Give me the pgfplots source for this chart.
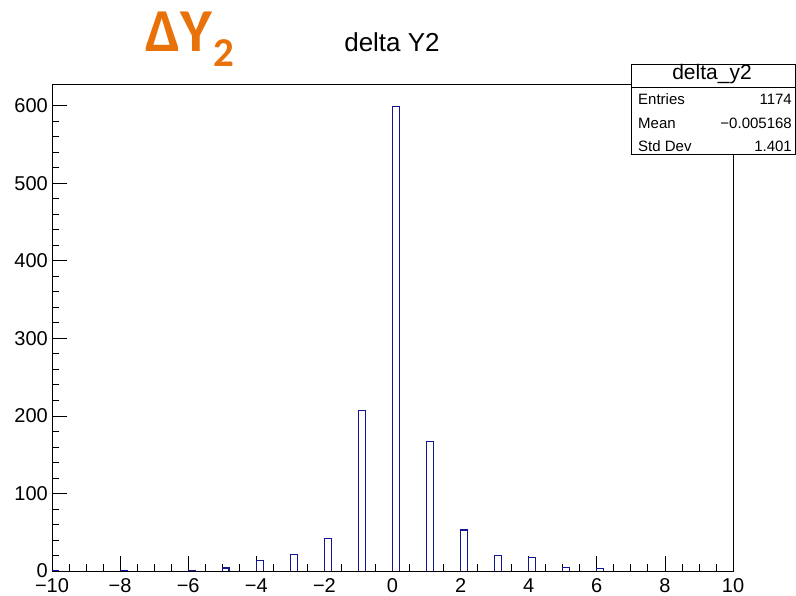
\documentclass[border=0pt]{standalone}
\usepackage{pgfplots}
\pgfplotsset{compat=1.18}
\usepackage{fontspec}
\setmainfont{Liberation Sans}
\newfontfamily\carlito{Carlito}
\definecolor{histblue}{RGB}{20,20,150}
\definecolor{dyorange}{RGB}{232,113,10}
\begin{document}
\begin{tikzpicture}
\useasboundingbox (0,0) rectangle (796pt,-596pt);
\begin{axis}[
  at={(52pt,-571pt)}, anchor=south west,
  scale only axis, width=681pt, height=487pt,
  xmin=-10, xmax=10, ymin=0, ymax=628,
  xtick={-10,-8,...,10},
  xticklabels={−10,−8,−6,−4,−2,0,2,4,6,8,10},
  ytick={0,100,...,600},
  minor x tick num=3, minor y tick num=4,
  tick align=inside, tick pos=left,
  major tick length=15pt, minor tick length=7.5pt,
  tick style={black, line width=0.8pt},
  axis line style={line width=0.8pt},
  ticklabel style={font=\fontsize{20}{20}\selectfont},
  xticklabel style={inner sep=0pt, yshift=-7.5pt},
  yticklabel style={inner sep=0pt, xshift=-4pt},
  /pgf/number format/assume math mode=true,
  unbounded coords=jump,
]
\addplot[sharp plot, histblue, line width=1.2pt] coordinates {
(-10,0) (-10,1) (-9.8,1) (-9.8,0) (nan,nan)
(-8,0) (-8,1) (-7.8,1) (-7.8,0) (nan,nan)
(-6,0) (-6,1) (-5.8,1) (-5.8,0) (nan,nan)
(-5,0) (-5,4) (-4.8,4) (-4.8,0) (nan,nan)
(-4,0) (-4,14) (-3.8,14) (-3.8,0) (nan,nan)
(-3,0) (-3,21) (-2.8,21) (-2.8,0) (nan,nan)
(-2,0) (-2,42) (-1.8,42) (-1.8,0) (nan,nan)
(-1,0) (-1,207) (-0.8,207) (-0.8,0) (nan,nan)
(0,0) (0,599) (0.2,599) (0.2,0) (nan,nan)
(1,0) (1,167) (1.2,167) (1.2,0) (nan,nan)
(2,0) (2,53) (2.2,53) (2.2,0) (nan,nan)
(3,0) (3,20) (3.2,20) (3.2,0) (nan,nan)
(4,0) (4,17) (4.2,17) (4.2,0) (nan,nan)
(5,0) (5,5) (5.2,5) (5.2,0) (nan,nan)
(6,0) (6,3) (6.2,3) (6.2,0)
};
\end{axis}
\draw[fill=white, line width=0.8pt] (631pt,-64pt) rectangle (795.5pt,-154pt);
\draw[line width=0.8pt] (631pt,-87pt) -- (795.5pt,-87pt);
\node[anchor=base] at (712pt,-80pt) {\fontsize{21}{21}\selectfont delta\_y2};
\node[anchor=base west, inner sep=0pt] at (638pt,-105pt) {\fontsize{15}{15}\selectfont Entries};
\node[anchor=base east, inner sep=0pt] at (792pt,-105pt) {\fontsize{15}{15}\selectfont 1174};
\node[anchor=base west, inner sep=0pt] at (638pt,-129pt) {\fontsize{15}{15}\selectfont Mean};
\node[anchor=base east, inner sep=0pt] at (792pt,-129pt) {\fontsize{15}{15}\selectfont −0.005168};
\node[anchor=base west, inner sep=0pt] at (638pt,-152pt) {\fontsize{15}{15}\selectfont Std Dev};
\node[anchor=base east, inner sep=0pt] at (792pt,-152pt) {\fontsize{15}{15}\selectfont 1.401};
\node[anchor=base] at (392pt,-52pt) {\fontsize{26}{26}\selectfont delta Y2};
\node[anchor=base west, inner sep=0pt, text=dyorange] at (145pt,-52pt) {\carlito\bfseries\fontsize{61}{61}\selectfont ΔY\kern1pt\raisebox{-15pt}{\fontsize{41}{41}\selectfont 2}};
\end{tikzpicture}
\end{document}
